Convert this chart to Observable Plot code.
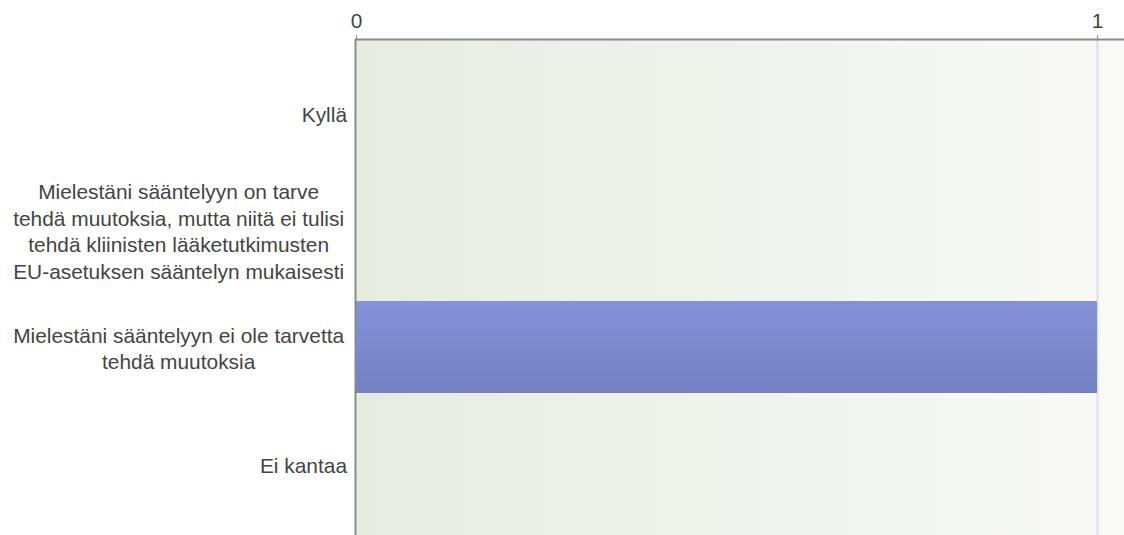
<!DOCTYPE html>
<html>
<head>
<meta charset="utf-8">
<script src="https://cdn.jsdelivr.net/npm/d3@7"></script>
<script src="https://cdn.jsdelivr.net/npm/@observablehq/plot@0.6"></script>
<style>
  html, body { margin: 0; padding: 0; background: #ffffff; }
  #chart svg { display: block; }
</style>
</head>
<body>
<div id="chart"></div>
<script>
// Survey answers (Finnish) and their response counts
const categories = [
  "Kyllä",
  "Mielestäni sääntelyyn on tarve\ntehdä muutoksia, mutta niitä ei tulisi\ntehdä kliinisten lääketutkimusten\nEU-asetuksen sääntelyn mukaisesti",
  "Mielestäni sääntelyyn ei ole tarvetta\ntehdä muutoksia",
  "Ei kantaa"
];
const counts = [0, 0, 1, 0];
const xTicks = [0, 1];

const data = categories.map((label, i) => ({label, count: counts[i]}));

const fontFamily = "'Liberation Sans', Arial, Helvetica, sans-serif";
const fontSize = 20.9;
const textColor = "#444444";
const axisColor = "#8a8a8a";
const labelGap = 9.5;

// Width of a wrapped label block: widest line, wrapped lines keep their trailing space
const ctx = document.createElement("canvas").getContext("2d");
ctx.font = `${fontSize}px ${fontFamily}`;
function blockWidth(label) {
  const lines = label.split("\n");
  return d3.max(lines, (line, i) => ctx.measureText(i < lines.length - 1 ? line + " " : line).width);
}

// One text mark per category: lines centred inside a right-aligned block
const labelMarks = categories.map((label) =>
  Plot.text([label], {
    x: () => 0,
    y: (d) => d,
    text: (d) => d,
    textAnchor: "middle",
    lineAnchor: "middle",
    lineHeight: 1.27,
    dx: -(labelGap + blockWidth(label) / 2),
    fill: textColor,
    fontSize
  })
);

const chart = Plot.plot({
  width: 1124,
  height: 535,
  marginLeft: 356,
  marginRight: 0,
  marginTop: 39,
  marginBottom: 0,
  style: {fontFamily, fontSize: `${fontSize}px`, color: textColor, background: "transparent", overflow: "visible"},
  x: {domain: [0, 1.0364], axis: null, label: null},
  y: {domain: categories, range: [39, 537.6], paddingInner: 0.21, paddingOuter: 0.232, axis: null},
  marks: [
    Plot.frame({fill: "url(#plotBg)", stroke: null}),
    Plot.ruleX(xTicks.slice(1), {stroke: "#dcdce8", strokeWidth: 2}),
    Plot.barX(data, {x: "count", y: "label", fill: "url(#barFill)"}),
    Plot.ruleX([0], {stroke: axisColor, strokeWidth: 2, dx: -1}),
    Plot.frame({anchor: "top", stroke: axisColor, strokeWidth: 2}),
    Plot.axisX({
      anchor: "top",
      ticks: xTicks,
      tickFormat: d3.format("d"),
      label: null,
      tickSize: 5,
      tickPadding: 7,
      stroke: axisColor,
      fill: textColor,
      fontSize
    }),
    ...labelMarks
  ]
});

// Gradients for the plot background and the bar
const defs = d3.select(chart).insert("defs", ":first-child");
const bg = defs.append("linearGradient").attr("id", "plotBg")
  .attr("x1", "0").attr("y1", "0").attr("x2", "1").attr("y2", "0");
bg.append("stop").attr("offset", "0").attr("stop-color", "#e7ece2");
bg.append("stop").attr("offset", "1").attr("stop-color", "#f9faf7");
const bf = defs.append("linearGradient").attr("id", "barFill")
  .attr("x1", "0").attr("y1", "0").attr("x2", "0").attr("y2", "1");
bf.append("stop").attr("offset", "0").attr("stop-color", "#8592d9");
bf.append("stop").attr("offset", "1").attr("stop-color", "#7381c2");

document.getElementById("chart").appendChild(chart);
</script>
</body>
</html>
